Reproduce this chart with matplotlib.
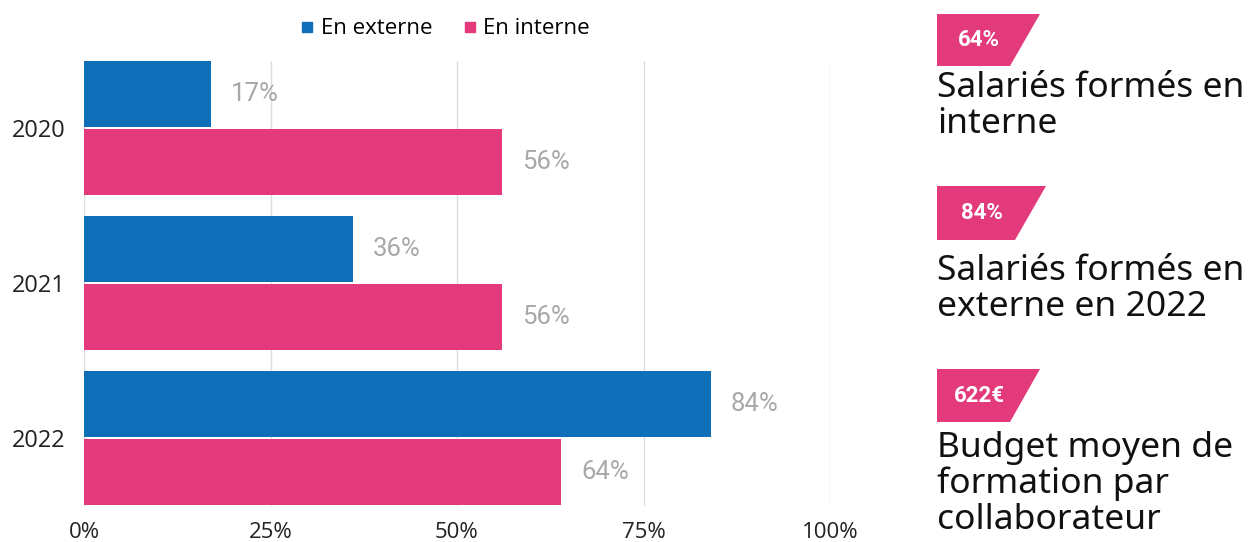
import matplotlib
matplotlib.use("Agg")
import matplotlib.pyplot as plt
from matplotlib.patches import Polygon
from matplotlib.lines import Line2D
import numpy as np

years = ["2020", "2021", "2022"]
en_externe = [17, 36, 84]
en_interne = [56, 56, 64]
series_names = ["En externe", "En interne"]
x_ticks = [0, 25, 50, 75, 100]
x_tick_labels = ["0%", "25%", "50%", "75%", "100%"]

kpi_values = ["64%", "84%", "622€"]
kpi_texts = ["Salariés formés en\ninterne",
             "Salariés formés en\nexterne en 2022",
             "Budget moyen de\nformation par\ncollaborateur"]

BLUE = "#0E6EB8"
PINK = "#E33A7C"
GRAY = "#A8A8A8"

W, H = 1256, 542
fig = plt.figure(figsize=(W / 100, H / 100), dpi=100)

def fx(px):
    return px / W

def fy(py):
    return 1 - py / H

ax_left, ax_right, ax_top, ax_bottom = 84, 830, 60.6, 505.6
ax = fig.add_axes([fx(ax_left), fy(ax_bottom), fx(ax_right - ax_left), (ax_bottom - ax_top) / H])

y = np.arange(len(years))
off, h = 0.218, 0.425
ax.barh(y - off, en_externe, height=h, color=BLUE, zorder=3)
ax.barh(y + off, en_interne, height=h, color=PINK, zorder=3)

for yi, v in zip(y - off, en_externe):
    ax.text(v + 5.9, yi, f"{v}%", va="center", ha="center", color=GRAY,
            fontsize=18.5, family="Roboto")
for yi, v in zip(y + off, en_interne):
    ax.text(v + 5.9, yi, f"{v}%", va="center", ha="center", color=GRAY,
            fontsize=18.5, family="Roboto")

ax.set_xlim(0, 100)
ax.set_ylim(2.435, -0.435)
ax.set_xticks(x_ticks)
ax.set_xticklabels(x_tick_labels, family="Open Sans", fontsize=16, color="#222222")
ax.set_yticks(y)
ax.set_yticklabels(years, family="Open Sans", fontsize=17, color="#222222")
ax.tick_params(axis="both", length=0)
ax.tick_params(axis="x", pad=12)
ax.tick_params(axis="y", pad=13)
for s in ax.spines.values():
    s.set_visible(False)
ax.grid(axis="x", color="#DDDDDD", linewidth=1, zorder=0)
ax.set_axisbelow(True)

handles = [Line2D([], [], marker="s", linestyle="none", markersize=6.5, color=BLUE),
           Line2D([], [], marker="s", linestyle="none", markersize=6.5, color=PINK)]
fig.legend(handles, series_names, loc="center", bbox_to_anchor=(fx(443), fy(29)),
           ncol=2, frameon=False, prop={"family": "Open Sans", "size": 16},
           handletextpad=0.1, columnspacing=1.2, handlelength=1.0)

# KPI panel
badges = [(14, 66, 1040, 1010), (186, 240, 1046, 1015), (369, 422, 1040, 1010)]
text_tops = [71, 254, 431]
for (t, b, rt, rb), val, txt, tt in zip(badges, kpi_values, kpi_texts, text_tops):
    poly = Polygon([(fx(937), fy(t)), (fx(rt), fy(t)), (fx(rb), fy(b)), (fx(937), fy(b))],
                   closed=True, transform=fig.transFigure, color=PINK, lw=0)
    fig.patches.append(poly)
    fig.text(fx((937 + (rt + rb) / 2) / 2 - 2), fy((t + b) / 2), val, color="white",
             fontsize=16, fontweight="bold", family="Roboto", ha="center", va="center")
    fig.text(fx(937), fy(tt), txt, color="#111111", fontsize=25.5, family="Noto Sans",
             ha="left", va="top", linespacing=1.06)

fig.savefig("out.png", dpi=100)
